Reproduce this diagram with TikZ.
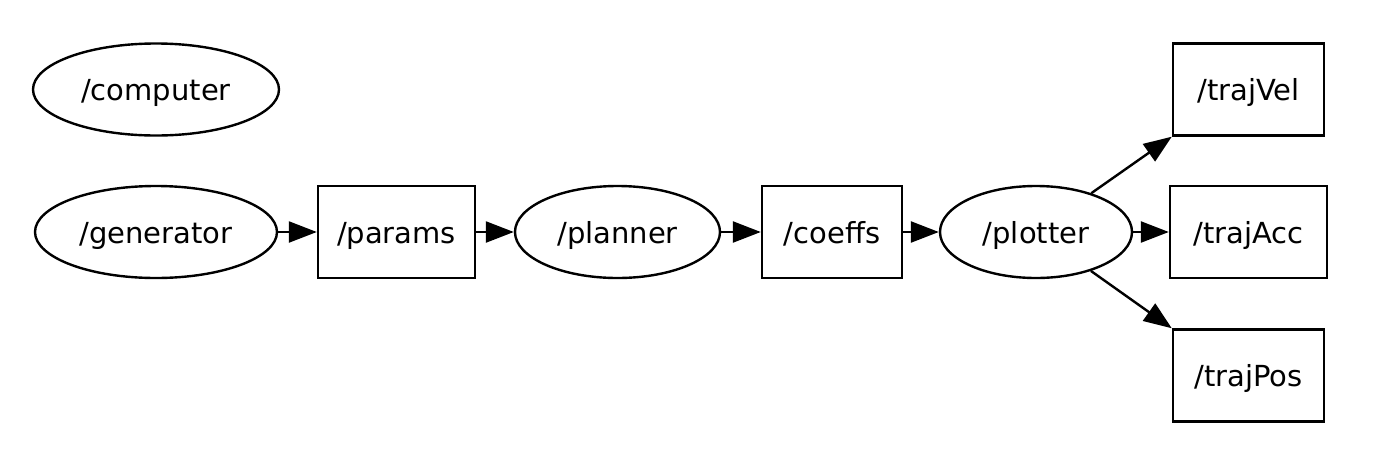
\documentclass[tikz,border=0pt]{standalone}
\usepackage{fontspec}
\setmainfont{DejaVu Sans}
\usetikzlibrary{shapes.geometric,arrows.meta}
\tikzset{
  rosnode/.style={draw, ellipse, line width=2.4pt, inner sep=0pt, minimum height=92pt,
    text height=22pt, text depth=0pt},
  topic/.style={draw, rectangle, line width=2.4pt, inner sep=0pt, minimum height=92pt,
    text height=22pt, text depth=0pt},
  link/.style={line width=2.4pt, -{Triangle[length=28pt,width=21pt]}}
}
\begin{document}
\begin{tikzpicture}[x=1pt, y=-1pt, font=\fontsize{29}{34}\selectfont]
      \useasboundingbox (0,0) rectangle (1387,461);
      \node[rosnode, minimum width=246pt] (comp) at (156,89.5) {/computer};
      \node[rosnode, minimum width=242pt] (gen) at (156,232) {/generator};
      \node[topic, minimum width=157pt] (params) at (396.5,232) {/params};
      \node[rosnode, minimum width=205pt] (planner) at (617.5,232) {/planner};
      \node[topic, minimum width=140pt] (coeffs) at (832,232) {/coeffs};
      \node[rosnode, minimum width=192pt] (plotter) at (1036,232) {/plotter};
      \node[topic, minimum width=151pt] (vel) at (1248.5,89.5) {/trajVel};
      \node[topic, minimum width=157pt] (acc) at (1248.5,232) {/trajAcc};
      \node[topic, minimum width=151pt] (pos) at (1248.5,375.5) {/trajPos};
      \draw[link] (gen) -- (params);
      \draw[link] (params) -- (planner);
      \draw[link] (planner) -- (coeffs);
      \draw[link] (coeffs) -- (plotter);
      \draw[link] (plotter) -- (acc);
      \draw[link] (plotter) -- (vel.south west);
      \draw[link] (plotter) -- (pos.north west);
    \end{tikzpicture}
\end{document}
